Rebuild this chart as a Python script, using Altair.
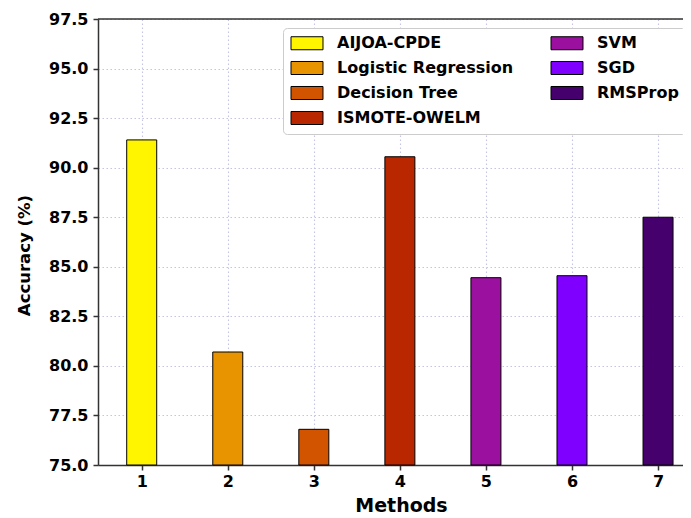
import altair as alt
import pandas as pd

# ---- data ----
methods = ["AIJOA-CPDE", "Logistic Regression", "Decision Tree", "ISMOTE-OWELM",
           "SVM", "SGD", "RMSProp"]
positions = [1, 2, 3, 4, 5, 6, 7]
accuracy = [91.4, 80.7, 76.8, 90.55, 84.45, 84.55, 87.5]
colors = ["#FFF500", "#E89300", "#D35400", "#B82700", "#9C10A0", "#7F00FF", "#46006E"]
y_ticks = [75.0, 77.5, 80.0, 82.5, 85.0, 87.5, 90.0, 92.5, 95.0, 97.5]

df = pd.DataFrame({"method": methods, "pos": positions, "acc": accuracy})
top_df = pd.DataFrame({"v": [y_ticks[-1]]})

FONT = "DejaVu Sans"
AX = "#333333"

x_scale = alt.Scale(domain=[0.492, 7.29], nice=False, zero=False, padding=0)
y_scale = alt.Scale(domain=[y_ticks[0], y_ticks[-1]], nice=False, zero=False, padding=0)

bars = alt.Chart(df).mark_bar(size=30, stroke="black", strokeWidth=1).encode(
    x=alt.X("pos:Q", scale=x_scale,
            axis=alt.Axis(values=positions, format="d", title="Methods",
                          labelPadding=3, titleX=303, titleY=40,
                          titleBaseline="middle", titleAlign="center",
                          titleFontSize=19)),
    y=alt.Y("acc:Q", scale=y_scale,
            axis=alt.Axis(values=y_ticks, format=".1f", title="Accuracy (%)",
                          labelPadding=5, titleX=-74, titleY=236,
                          titleAngle=270, titleAlign="center",
                          titleBaseline="middle", titleFontSize=16.5)),
    y2=alt.datum(y_ticks[0]),
    color=alt.Color("method:N",
                    scale=alt.Scale(domain=methods, range=colors),
                    legend=alt.Legend(
                        title=None, orient="none", legendX=185, legendY=9,
                        columns=2, columnPadding=35, rowPadding=7,
                        padding=7, fillColor="white", strokeColor="#cccccc",
                        cornerRadius=4,
                        symbolType="M-1,-0.929H3.571V0.929H-1Z",
                        symbolSize=196, symbolStrokeColor="black",
                        symbolStrokeWidth=1, symbolOpacity=1,
                        labelOffset=31, labelFont=FONT, labelFontSize=16,
                        labelFontWeight="bold", labelColor="black",
                        labelLimit=400)),
)

top_line = alt.Chart(top_df).mark_rule(color=AX, strokeWidth=1.5).encode(
    y=alt.Y("v:Q", scale=y_scale)
)

chart = alt.layer(bars, top_line).properties(
    width=585, height=446,
    autosize="none",
    padding={"left": 90, "top": 11, "right": 0, "bottom": 50},
).configure_view(stroke=None).configure_axis(
    domainColor=AX, domainWidth=1.5, tickColor=AX, tickWidth=1.5, tickSize=5,
    labelFont=FONT, labelFontWeight="bold", labelFontSize=16, labelColor="black",
    titleFont=FONT, titleFontWeight="bold", titleColor="black",
    gridColor="#c4c4e6", gridDash=[1.5, 2.5], gridWidth=1.1,
)

chart.save("out.html", embed_options={"renderer": "svg", "actions": False})
